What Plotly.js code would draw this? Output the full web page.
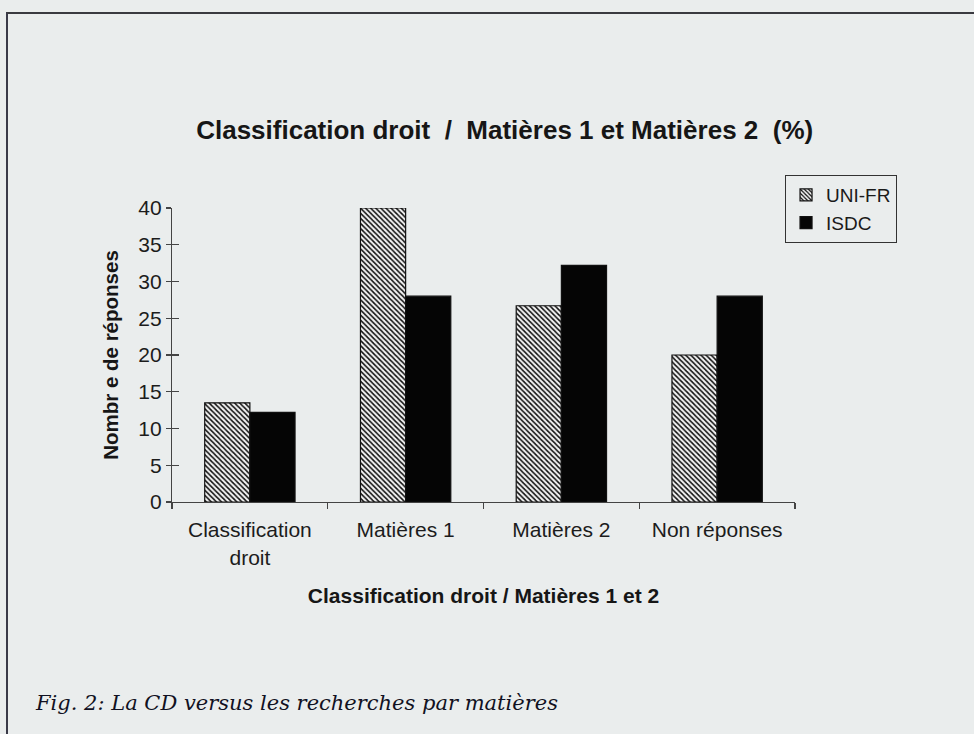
<!DOCTYPE html>
<html>
<head>
<meta charset="utf-8">
<script src="https://cdn.plot.ly/plotly-3.0.1.min.js"></script>
<style>
  html, body { margin: 0; padding: 0; background: #eaeded; }
  #wrap { position: relative; width: 974px; height: 734px; overflow: hidden; background: #eaeded; }
  #chart { position: absolute; left: 0; top: 0; width: 974px; height: 734px; }
  #frame { position: absolute; left: 6px; top: 12px; width: 980px; height: 740px;
           border-top: 2px solid #3a3a40; border-left: 2px solid #3a3a48; pointer-events: none; }
</style>
</head>
<body>
<div id="wrap">
  <div id="chart"></div>
  <div id="frame"></div>
</div>
<script>
// ---- data ----
const categories = ["Classification<br>droit", "Matières 1", "Matières 2", "Non réponses"];
const uniFr = [13.5, 40, 26.7, 20];
const isdc  = [12.2, 28, 32.2, 28];
const seriesNames = ["UNI-FR", "ISDC"];
const chartTitle = "Classification droit  /  Matières 1 et Matières 2  (%)";
const xTitle = "Classification droit / Matières 1 et 2";
const yTitle = "Nombr e de réponses";
const caption = "<i>Fig. 2: La CD versus les recherches par matières</i>";

const sans = "Liberation Sans, Arial, sans-serif";

const traces = [
  {
    type: "bar", name: seriesNames[0], x: categories, y: uniFr,
    marker: {
      color: "#f4f4f4",
      line: { color: "#111", width: 1.2 },
      pattern: { shape: "\\", fgcolor: "#111", bgcolor: "#f4f4f4", size: 3.6, solidity: 0.45 }
    },
    hoverinfo: "x+y"
  },
  {
    type: "bar", name: seriesNames[1], x: categories, y: isdc,
    marker: { color: "#050505", line: { color: "#111", width: 1.2 } },
    hoverinfo: "x+y"
  }
];

const layout = {
  width: 974, height: 734,
  paper_bgcolor: "rgba(0,0,0,0)",
  plot_bgcolor: "rgba(0,0,0,0)",
  margin: { l: 172, r: 179, t: 208, b: 232 },
  barmode: "group",
  bargap: 0.42,
  bargroupgap: 0,
  showlegend: true,
  font: { family: sans, color: "#1c1c1c" },
  title: {
    text: chartTitle,
    font: { family: sans, size: 26, color: "#161616", weight: "bold" },
    xref: "paper", x: 0.534, xanchor: "center",
    yref: "container", y: 0.823, yanchor: "middle"
  },
  xaxis: {
    type: "category",
    showline: true, linecolor: "#444", linewidth: 1.2,
    ticks: "outside", ticklen: 6, tickcolor: "#444", tickwidth: 1.2,
    tickson: "boundaries",
    ticklabelstandoff: 9,
    showgrid: false, zeroline: false,
    tickfont: { family: sans, size: 21, color: "#1c1c1c" },
    title: { text: xTitle, font: { family: sans, size: 21, color: "#161616", weight: "bold" }, standoff: 20 },
    automargin: false
  },
  yaxis: {
    range: [0, 40], dtick: 5,
    showline: true, linecolor: "#444", linewidth: 1.2,
    ticks: "outside", ticklen: 5, tickcolor: "#444", tickwidth: 1.2,
    showgrid: false, zeroline: false,
    tickfont: { family: sans, size: 21, color: "#1c1c1c" },
    title: { text: yTitle, font: { family: sans, size: 20.5, color: "#161616", weight: "bold" }, standoff: 14 },
    automargin: false
  },
  yaxis2: {
    overlaying: "y", side: "left", range: [0, 40], dtick: 5,
    ticks: "inside", ticklen: 7, tickcolor: "#444", tickwidth: 1.2,
    showticklabels: false, showline: false, showgrid: false, zeroline: false
  },
  legend: {
    x: 0.984, xanchor: "left", y: 1.112, yanchor: "top",
    bgcolor: "rgba(0,0,0,0)", bordercolor: "#333", borderwidth: 1,
    font: { family: sans, size: 19, color: "#1a1a1a" },
    itemwidth: 30
  },
  annotations: [
    {
      text: caption, showarrow: false,
      xref: "paper", yref: "paper", x: -0.223, y: -0.685, xanchor: "left", yanchor: "middle",
      font: { family: "DejaVu Serif, Liberation Serif, serif", size: 21, color: "#111122" }
    }
  ]
};

// invisible helper trace so the overlaying y-axis (crossing ticks) is drawn
traces.push({ type: "scatter", x: [categories[0]], y: [0], yaxis: "y2", mode: "markers",
  marker: { opacity: 0 }, showlegend: false, hoverinfo: "skip" });

Plotly.newPlot("chart", traces, layout, { displayModeBar: false, staticPlot: true });
</script>
</body>
</html>
